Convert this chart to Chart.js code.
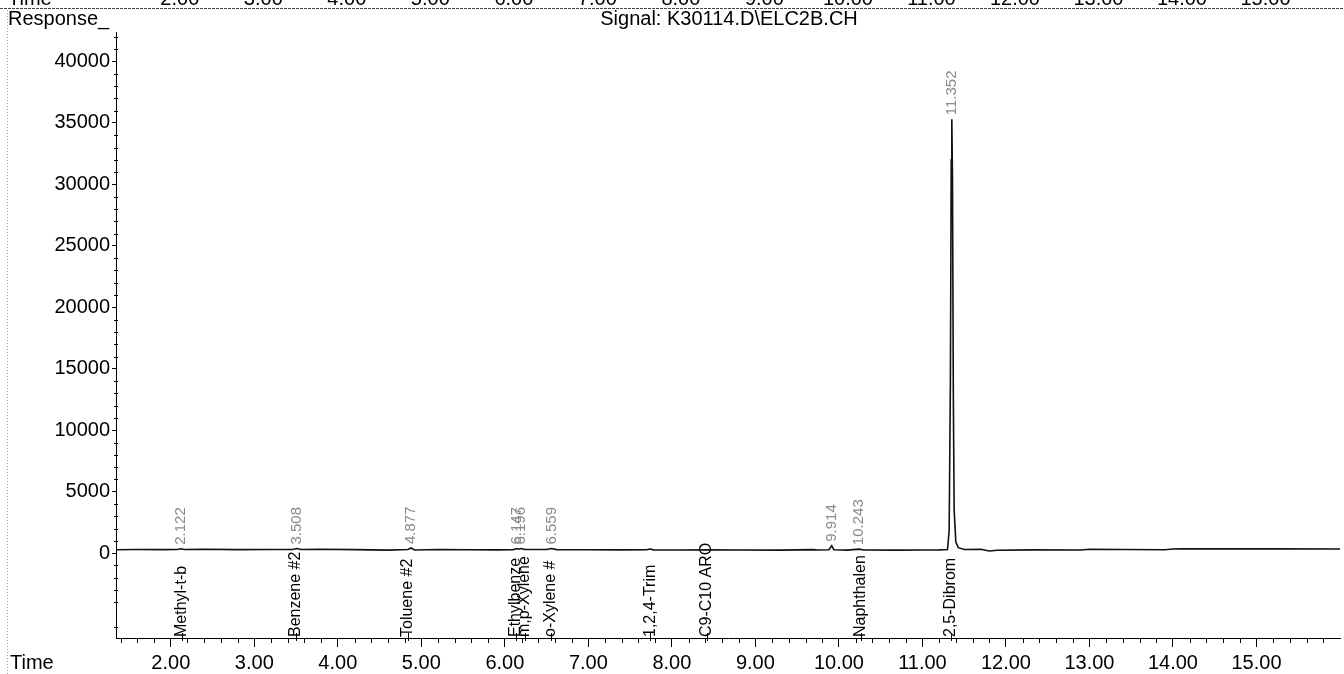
<!DOCTYPE html>
<html><head><meta charset="utf-8">
<script src="https://cdn.jsdelivr.net/npm/chart.js@4.4.0/dist/chart.umd.min.js"></script>
<style>html,body{margin:0;padding:0;background:#fff}#wrap{width:1344px;height:674px;position:relative}</style>
</head><body><div id="wrap"><canvas id="c" width="1344" height="674"></canvas></div>
<script>
// ---- data ----
const traceTime=[1.344,1.6,1.9,2.08,2.122,2.16,2.4,2.8,3.2,3.46,3.508,3.56,3.8,4.2,4.6,4.84,4.877,4.92,5.2,5.6,5.9,6.1,6.147,6.17,6.196,6.24,6.5,6.559,6.62,7.0,7.4,7.7,7.74,7.78,8.1,8.42,8.8,9.3,9.7,9.74,9.88,9.914,9.94,10.1,10.243,10.3,10.7,11.0,11.2,11.3,11.32,11.335,11.345,11.352,11.36,11.37,11.38,11.4,11.43,11.5,11.7,11.8,11.9,12.3,12.9,13.0,13.4,13.9,14.0,14.1,14.6,15.2,16.0];
const traceResponse=[280,300,290,300,360,300,320,290,300,300,380,300,320,290,250,300,420,260,300,280,270,290,380,320,380,300,300,380,290,280,270,280,340,270,260,270,260,250,290,260,280,600,280,250,330,260,250,260,270,300,1800,14000,32000,35300,30500,13000,3500,900,450,300,320,180,240,270,260,320,300,280,340,360,350,350,340];
const yTickValues=[0,5000,10000,15000,20000,25000,30000,35000,40000];
const xTickValues=[2,3,4,5,6,7,8,9,10,11,12,13,14,15];
const rtTimes=[2.122,3.508,4.877,6.147,6.196,6.559,9.914,10.243,11.352];
const rtLabels=["2.122","3.508","4.877","6.147","6.196","6.559","9.914","10.243","11.352"];
const compoundTimes=[2.13,3.50,4.84,6.13,6.24,6.55,7.74,8.42,10.26,11.34];
const compoundNames=["Methyl-t-b","Benzene #2","Toluene #2","Ethylbenze","m,p-Xylene","o-Xylene #","1,2,4-Trim","C9-C10 ARO","Naphthalen","2,5-Dibrom"];
const titleText="Signal: K30114.D\\ELC2B.CH";
const yAxisTitle="Response_";
const xAxisTitle="Time";

const FONT="'Liberation Sans', Arial, Helvetica, sans-serif";

const deco={
  id:'deco',
  afterDraw(chart){
    const ctx=chart.ctx, xs=chart.scales.x, ys=chart.scales.y, ca=chart.chartArea;
    ctx.save();
    // top cut-off row from previous page
    ctx.fillStyle='#000';
    ctx.font='20px '+FONT;
    ctx.textAlign='left'; ctx.textBaseline='alphabetic';
    ctx.fillText(xAxisTitle,8,5);
    ctx.textAlign='center';
    xTickValues.forEach(v=>{ctx.fillText(v.toFixed(2),xs.getPixelForValue(v)+9,5);});
    ctx.strokeStyle='#444'; ctx.lineWidth=1; ctx.setLineDash([3,1]);
    ctx.beginPath(); ctx.moveTo(0,8.5); ctx.lineTo(1344,8.5); ctx.stroke();
    // left dotted page edge
    ctx.strokeStyle='#999'; ctx.setLineDash([1,2]);
    ctx.beginPath(); ctx.moveTo(7.5,10); ctx.lineTo(7.5,674); ctx.stroke();
    ctx.setLineDash([]);
    // titles
    ctx.fillStyle='#000';
    ctx.textAlign='left'; ctx.textBaseline='middle';
    ctx.font='20px '+FONT;
    ctx.fillText(yAxisTitle,8,19);
    ctx.textAlign='center';
    ctx.fillText(titleText,729,19);
    ctx.textAlign='left';
    ctx.fillText(xAxisTitle,10,663);
    // minor ticks y
    ctx.strokeStyle='#000'; ctx.lineWidth=1;
    ctx.beginPath();
    for(let v=-6000; v<=42000; v+=1000){
      if(v%5000===0) continue;
      const p=Math.round(ys.getPixelForValue(v))+0.5;
      ctx.moveTo(ca.left-2,p); ctx.lineTo(ca.left+2,p);
    }
    // minor ticks x
    for(let k=7;k<=80;k++){
      const v=k*0.2;
      if(Math.abs(v-Math.round(v))<1e-6) continue;
      if(v<xs.min||v>xs.max) continue;
      const p=Math.round(xs.getPixelForValue(v))+0.5;
      ctx.moveTo(p,ca.bottom); ctx.lineTo(p,ca.bottom+5);
    }
    // compound markers at axis
    compoundTimes.forEach(t=>{
      const p=Math.round(xs.getPixelForValue(t))+0.5;
      ctx.moveTo(p,ca.bottom-5); ctx.lineTo(p,ca.bottom+3);
    });
    ctx.stroke();
    // retention time labels
    ctx.fillStyle='#8a8a8a';
    ctx.font='15px '+FONT;
    ctx.textAlign='left'; ctx.textBaseline='middle';
    rtTimes.forEach((t,i)=>{
      let mx=-Infinity;
      traceTime.forEach((tt,j)=>{if(Math.abs(tt-t)<0.03) mx=Math.max(mx,traceResponse[j]);});
      const px=xs.getPixelForValue(t);
      const py=ys.getPixelForValue(mx)-4;
      ctx.save(); ctx.translate(px,py); ctx.rotate(-Math.PI/2);
      ctx.fillText(rtLabels[i],0,0); ctx.restore();
    });
    // compound names
    ctx.fillStyle='#000';
    ctx.font='16px '+FONT;
    compoundTimes.forEach((t,i)=>{
      const px=xs.getPixelForValue(t);
      ctx.save(); ctx.translate(px,ca.bottom-1); ctx.rotate(-Math.PI/2);
      ctx.fillText(compoundNames[i],0,0); ctx.restore();
    });
    ctx.restore();
  }
};

new Chart(document.getElementById('c'),{
  type:'line',
  data:{datasets:[{
    data:traceTime.map((t,i)=>({x:t,y:traceResponse[i]})),
    borderColor:'#111',borderWidth:1.6,pointRadius:0,tension:0,fill:false
  }]},
  options:{
    responsive:false,animation:false,
    layout:{padding:{left:0,right:4,top:32,bottom:0}},
    plugins:{legend:{display:false},tooltip:{enabled:false},title:{display:false}},
    scales:{
      x:{type:'linear',min:1.344,max:16.0,
        afterBuildTicks:s=>{s.ticks=xTickValues.map(v=>({value:v}));},
        afterFit:s=>{s.height=36;},
        grid:{drawOnChartArea:false,drawTicks:true,tickLength:9,color:'#000'},
        border:{display:true,color:'#000',width:1},
        ticks:{color:'#000',font:{size:20,family:FONT},padding:4,maxRotation:0,autoSkip:false,
          callback:v=>Number(v).toFixed(2)}
      },
      y:{type:'linear',min:-6900,max:42400,
        afterBuildTicks:s=>{s.ticks=yTickValues.map(v=>({value:v}));},
        afterFit:s=>{s.width=116;},
        grid:{drawOnChartArea:false,drawTicks:true,tickLength:4,color:'#000'},
        border:{display:true,color:'#000',width:1},
        ticks:{color:'#000',font:{size:20,family:FONT},padding:2,autoSkip:false,
          callback:v=>String(v)}
      }
    }
  },
  plugins:[deco]
});
</script></body></html>
